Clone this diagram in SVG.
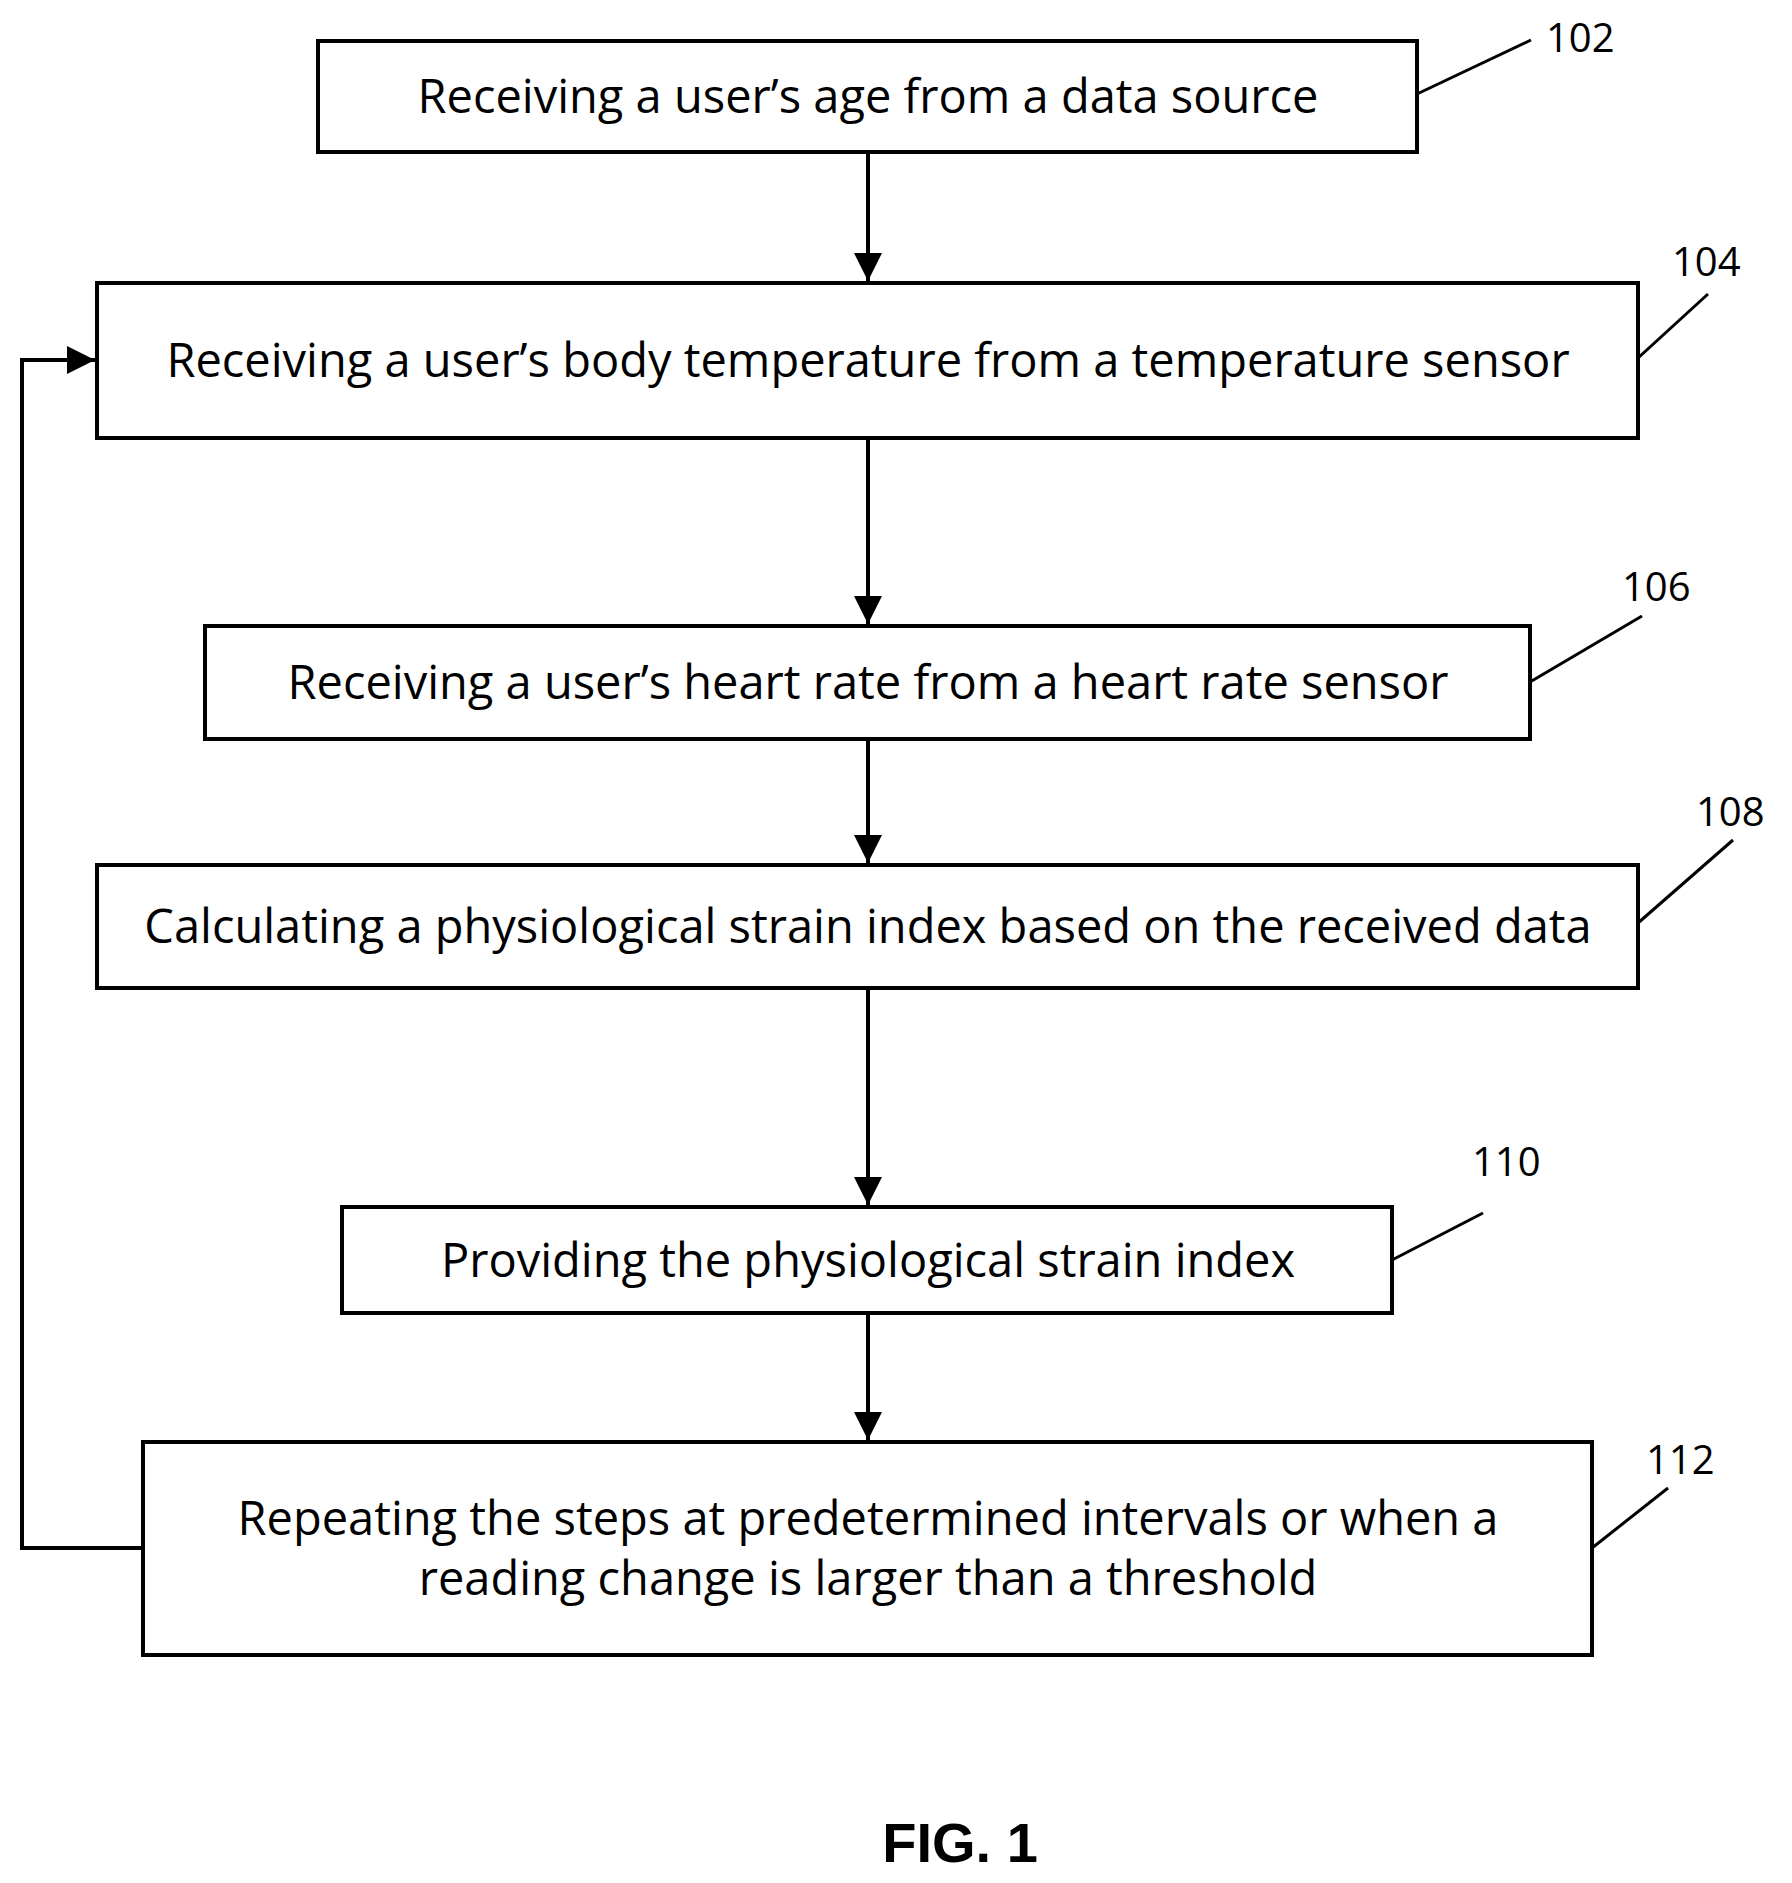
<svg xmlns="http://www.w3.org/2000/svg" width="1792" height="1883" viewBox="0 0 1792 1883">
<style>
.b{fill:#fff;stroke:#000;stroke-width:4}
.t{font-family:"Open Sans","Liberation Sans",Arial,sans-serif;font-size:47px;text-anchor:middle;fill:#000}
.n{font-family:"Open Sans","Liberation Sans",Arial,sans-serif;font-size:40px;fill:#000}
.l{stroke:#000;stroke-width:3;fill:none}
.c{stroke:#000;stroke-width:4;fill:none}
</style>
<defs><marker id="a" markerWidth="8" markerHeight="8" refX="7" refY="4" orient="auto" markerUnits="strokeWidth"><path d="M0,0.5 L7,4 L0,7.5z" fill="#000"/></marker></defs>
<rect width="1792" height="1883" fill="#fff"/>
<g id="connectors">
<line class="c" x1="868" y1="152" x2="868" y2="281" marker-end="url(#a)"/>
<line class="c" x1="868" y1="438" x2="868" y2="624" marker-end="url(#a)"/>
<line class="c" x1="868" y1="739" x2="868" y2="863" marker-end="url(#a)"/>
<line class="c" x1="868" y1="988" x2="868" y2="1205" marker-end="url(#a)"/>
<line class="c" x1="868" y1="1313" x2="868" y2="1440" marker-end="url(#a)"/>
<polyline class="c" points="143,1548 22,1548 22,360 95,360" marker-end="url(#a)"/>
</g>
<g id="n102"><rect class="b" x="318" y="41" width="1099" height="111"/><text class="t" x="868" y="113">Receiving a user’s age from a data source</text>
<line class="l" x1="1417" y1="94" x2="1531" y2="40"/><text class="n" x="1546" y="52">102</text></g>
<g id="n104"><rect class="b" x="97" y="283" width="1541" height="155"/><text class="t" x="868" y="377">Receiving a user’s body temperature from a temperature sensor</text>
<line class="l" x1="1638" y1="358" x2="1708" y2="294"/><text class="n" x="1672" y="276">104</text></g>
<g id="n106"><rect class="b" x="205" y="626" width="1325" height="113"/><text class="t" x="868" y="699">Receiving a user’s heart rate from a heart rate sensor</text>
<line class="l" x1="1530" y1="682" x2="1642" y2="616"/><text class="n" x="1622" y="601">106</text></g>
<g id="n108"><rect class="b" x="97" y="865" width="1541" height="123"/><text class="t" x="868" y="943">Calculating a physiological strain index based on the received data</text>
<line class="l" x1="1638" y1="923" x2="1733" y2="840"/><text class="n" x="1696" y="826">108</text></g>
<g id="n110"><rect class="b" x="342" y="1207" width="1050" height="106"/><text class="t" x="868" y="1277">Providing the physiological strain index</text>
<line class="l" x1="1392" y1="1260" x2="1483" y2="1213"/><text class="n" x="1472" y="1176">110</text></g>
<g id="n112"><rect class="b" x="143" y="1442" width="1449" height="213"/><text class="t" x="868" y="1535">Repeating the steps at predetermined intervals or when a</text><text class="t" x="868" y="1595">reading change is larger than a threshold</text>
<line class="l" x1="1592" y1="1548" x2="1668" y2="1488"/><text class="n" x="1646" y="1474">112</text></g>
<text x="960" y="1862" font-family="Liberation Sans,Arial,sans-serif" font-size="56" font-weight="bold" text-anchor="middle">FIG. 1</text>
</svg>
